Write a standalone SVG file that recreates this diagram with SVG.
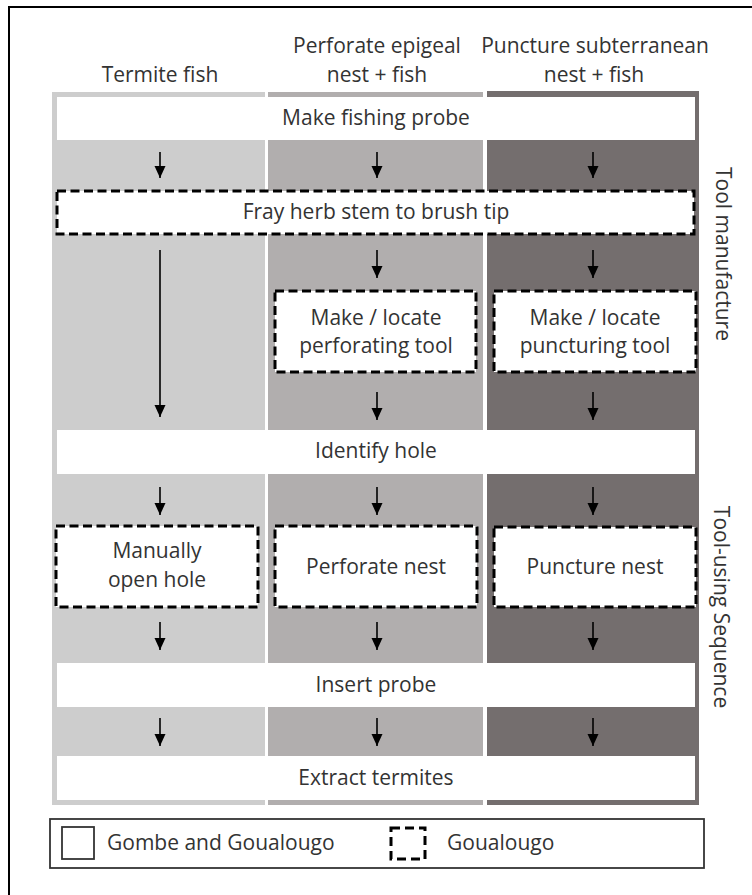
<svg xmlns="http://www.w3.org/2000/svg" width="752" height="895" viewBox="0 0 752 895">
<defs>
<marker id="ah" markerWidth="13" markerHeight="12" refX="12" refY="5.5" orient="auto" markerUnits="userSpaceOnUse" viewBox="0 0 13 12">
<path d="M0,0 L12,5.5 L0,11 Z" fill="#000"/>
</marker>
</defs>
<style>
text{font-family:"Open Sans","Noto Sans",sans-serif;font-size:21px;fill:#333;text-anchor:middle}
.band{fill:#fff}
.dash{fill:#fff;stroke:#000;stroke-width:3;stroke-dasharray:9 4.5}
.arr{stroke:#000;stroke-width:1.6;fill:none;marker-end:url(#ah)}
.lg{fill:#fff;stroke:#333;stroke-width:1.8}
</style>
<rect width="752" height="895" fill="#fff"/>
<rect x="9" y="7" width="760" height="900" fill="none" stroke="#000" stroke-width="2"/>

<g id="headers">
<text x="160" y="82">Termite fish</text>
<text x="377" y="53">Perforate epigeal</text>
<text x="377" y="82">nest + fish</text>
<text x="595" y="53">Puncture subterranean</text>
<text x="594" y="82">nest + fish</text>
</g>

<g id="columns">
<rect id="col1" x="52" y="92" width="213" height="713" fill="#cdcdcd"/>
<rect id="col2" x="268" y="92" width="215" height="713" fill="#b1aeae"/>
<rect id="col3" x="487" y="91" width="212" height="714" fill="#746e6e"/>
</g>

<g id="make-probe"><rect class="band" x="57" y="97" width="638" height="43"/><text x="376" y="125">Make fishing probe</text></g>
<g id="fray"><rect class="dash" x="57" y="191" width="637" height="43"/><text x="376" y="219">Fray herb stem to brush tip</text></g>
<g id="perf-tool"><rect class="dash" x="275" y="291" width="201" height="81"/><text x="376" y="325">Make / locate</text><text x="376" y="353">perforating tool</text></g>
<g id="punc-tool"><rect class="dash" x="494" y="291" width="202" height="81"/><text x="595" y="325">Make / locate</text><text x="595" y="353">puncturing tool</text></g>
<g id="identify"><rect class="band" x="57" y="430" width="638" height="44"/><text x="376" y="458">Identify hole</text></g>
<g id="manual"><rect class="dash" x="56" y="526" width="202" height="81"/><text x="157" y="558">Manually</text><text x="157" y="587">open hole</text></g>
<g id="perforate"><rect class="dash" x="275" y="526" width="202" height="81"/><text x="376" y="574">Perforate nest</text></g>
<g id="puncture"><rect class="dash" x="494" y="527" width="202" height="80"/><text x="595" y="574">Puncture nest</text></g>
<g id="insert"><rect class="band" x="57" y="663" width="638" height="44"/><text x="376" y="692">Insert probe</text></g>
<g id="extract"><rect class="band" x="57" y="756" width="638" height="44"/><text x="376" y="785">Extract termites</text></g>

<g id="connectors">
<line class="arr" x1="160" y1="152" x2="160" y2="178"/>
<line class="arr" x1="377" y1="152" x2="377" y2="178"/>
<line class="arr" x1="593" y1="152" x2="593" y2="178"/>
<line class="arr" x1="160" y1="250" x2="160" y2="417"/>
<line class="arr" x1="377" y1="250" x2="377" y2="278"/>
<line class="arr" x1="593" y1="250" x2="593" y2="278"/>
<line class="arr" x1="377" y1="392" x2="377" y2="420"/>
<line class="arr" x1="593" y1="392" x2="593" y2="420"/>
<line class="arr" x1="160" y1="487" x2="160" y2="515"/>
<line class="arr" x1="377" y1="487" x2="377" y2="515"/>
<line class="arr" x1="593" y1="487" x2="593" y2="515"/>
<line class="arr" x1="160" y1="622" x2="160" y2="650"/>
<line class="arr" x1="377" y1="622" x2="377" y2="650"/>
<line class="arr" x1="593" y1="622" x2="593" y2="650"/>
<line class="arr" x1="160" y1="718" x2="160" y2="746"/>
<line class="arr" x1="377" y1="718" x2="377" y2="746"/>
<line class="arr" x1="593" y1="718" x2="593" y2="746"/>
</g>

<g id="side-labels">
<text transform="translate(716,254) rotate(90)">Tool manufacture</text>
<text transform="translate(714,607) rotate(90)">Tool-using Sequence</text>
</g>

<g id="legend">
<rect class="lg" x="50" y="819" width="654" height="49"/>
<rect class="lg" x="62" y="827" width="32" height="32"/>
<text x="107" y="850" style="text-anchor:start">Gombe and Goualougo</text>
<rect x="391" y="828" width="34" height="31" fill="#fff" stroke="#000" stroke-width="3" stroke-dasharray="9 5"/>
<text x="447" y="850" style="text-anchor:start">Goualougo</text>
</g>
</svg>
